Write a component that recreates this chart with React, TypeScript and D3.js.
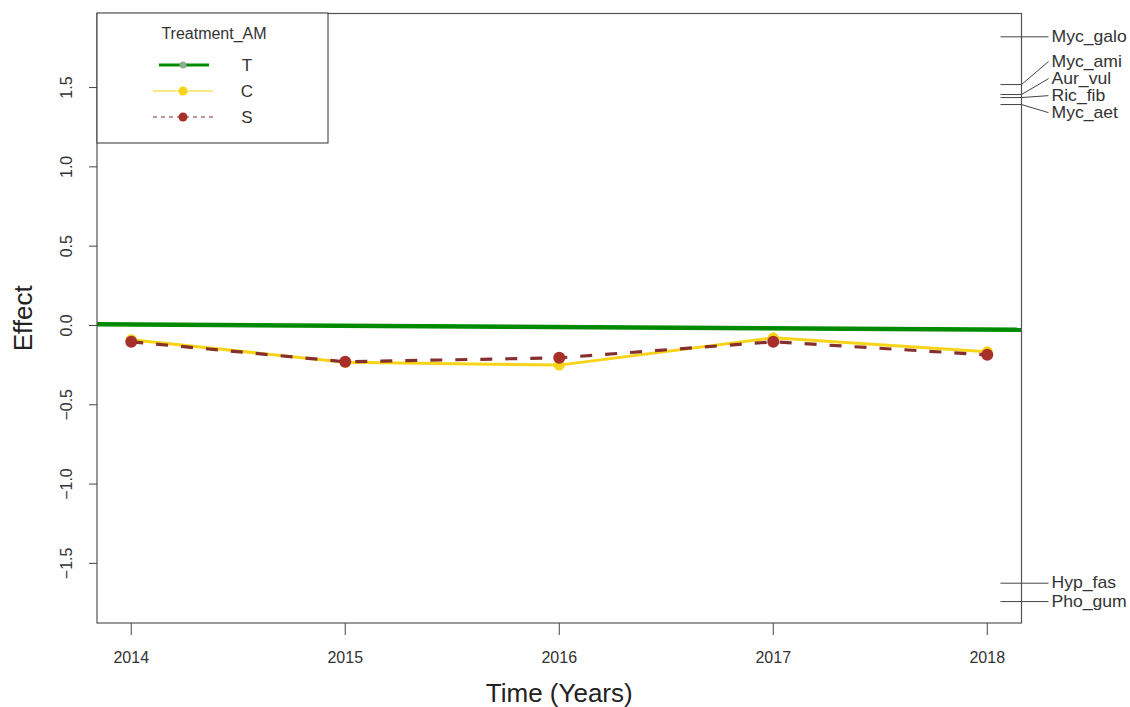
import React, { useEffect, useRef } from 'react'
import * as d3 from 'd3'

// years on the x axis
const years = [2014, 2015, 2016, 2017, 2018]

// treatment C and S effects per year
const effectC = [-0.09, -0.232, -0.25, -0.078, -0.166]
const effectS = [-0.103, -0.229, -0.204, -0.103, -0.185]

// treatment T is a straight reference line across the panel
const lineTYears = [2013.84, 2018.16]
const lineTValues = [0.008, -0.027]

const yTicks = [-1.5, -1.0, -0.5, 0.0, 0.5, 1.0, 1.5]

// species effects labelled on the right margin
const speciesNames = ['Myc_galo', 'Myc_ami', 'Aur_vul', 'Ric_fib', 'Myc_aet', 'Hyp_fas', 'Pho_gum']
const speciesValues = [1.82, 1.519, 1.456, 1.437, 1.393, -1.625, -1.741]
const speciesLabelAt = [1.82, 1.664, 1.556, 1.449, 1.342, -1.625, -1.741]

const legendKeys = ['T', 'C', 'S']

const FONT = '"Liberation Sans", Arial, Helvetica, sans-serif'

const App = () => {
    const ref = useRef(null)

    useEffect(() => {
        document.body.style.margin = '0'
        const svg = d3.select(ref.current)
        svg.selectAll('*').remove()

        const left = 97, right = 1021.5, top = 13.5, bottom = 623

        const xScale = d3.scaleLinear().domain([2013.84, 2018.16]).range([left, right])
        const yScale = d3.scaleLinear().domain([-1.876, 1.967]).range([bottom, top])

        svg.append('clipPath').attr('id', 'plotclip')
            .append('rect')
            .attr('x', left).attr('y', top)
            .attr('width', right - left).attr('height', bottom - top)

        const g = svg.append('g').attr('clip-path', 'url(#plotclip)')

        // T line
        const lineT = d3.line<number>()
            .x((d, i) => xScale(lineTYears[i]))
            .y(d => yScale(d))
        g.append('path')
            .attr('d', lineT(lineTValues))
            .attr('fill', 'none')
            .attr('stroke', '#008a00')
            .attr('stroke-width', 4.5)

        const line = d3.line<number>()
            .x((d, i) => xScale(years[i]))
            .y(d => yScale(d))

        // C line (gold)
        g.append('path')
            .attr('d', line(effectC))
            .attr('fill', 'none')
            .attr('stroke', '#f7d417')
            .attr('stroke-width', 3)
        g.selectAll('circle.c')
            .data(effectC)
            .join('circle')
            .attr('class', 'c')
            .attr('cx', (d, i) => xScale(years[i]))
            .attr('cy', d => yScale(d))
            .attr('r', 5.5)
            .attr('fill', '#f7d417')

        // S line (dashed brown)
        g.append('path')
            .attr('d', line(effectS))
            .attr('fill', 'none')
            .attr('stroke', '#85302c')
            .attr('stroke-width', 3.2)
            .attr('stroke-dasharray', '12,13')
        g.selectAll('circle.s')
            .data(effectS)
            .join('circle')
            .attr('class', 's')
            .attr('cx', (d, i) => xScale(years[i]))
            .attr('cy', d => yScale(d))
            .attr('r', 6)
            .attr('fill', '#a8302b')

        // box
        svg.append('rect')
            .attr('x', left).attr('y', top)
            .attr('width', right - left).attr('height', bottom - top)
            .attr('fill', 'none')
            .attr('stroke', '#555')
            .attr('stroke-width', 1.2)

        // y axis
        svg.selectAll('line.ytick')
            .data(yTicks)
            .join('line')
            .attr('class', 'ytick')
            .attr('x1', left - 8).attr('x2', left)
            .attr('y1', d => yScale(d)).attr('y2', d => yScale(d))
            .attr('stroke', '#444')
        svg.selectAll('text.ylab')
            .data(yTicks)
            .join('text')
            .attr('class', 'ylab')
            .attr('transform', d => `translate(72,${yScale(d)}) rotate(-90)`)
            .attr('text-anchor', 'middle')
            .attr('font-family', FONT)
            .attr('font-size', 16)
            .attr('fill', '#333')
            .text(d => d3.format('.1f')(d).replace('-', '\u2212'))

        // x axis
        svg.selectAll('line.xtick')
            .data(years)
            .join('line')
            .attr('class', 'xtick')
            .attr('x1', d => xScale(d)).attr('x2', d => xScale(d))
            .attr('y1', bottom).attr('y2', bottom + 12)
            .attr('stroke', '#444')
        svg.selectAll('text.xlab')
            .data(years)
            .join('text')
            .attr('class', 'xlab')
            .attr('x', d => xScale(d))
            .attr('y', 663)
            .attr('text-anchor', 'middle')
            .attr('font-family', FONT)
            .attr('font-size', 16)
            .attr('fill', '#333')
            .text(d => d)

        svg.append('text')
            .attr('x', (left + right) / 2)
            .attr('y', 702)
            .attr('text-anchor', 'middle')
            .attr('font-family', FONT)
            .attr('font-size', 26)
            .attr('fill', '#222')
            .text('Time (Years)')

        svg.append('text')
            .attr('transform', `translate(32,${(top + bottom) / 2}) rotate(-90)`)
            .attr('text-anchor', 'middle')
            .attr('font-family', FONT)
            .attr('font-size', 26)
            .attr('fill', '#222')
            .text('Effect')

        // right-margin species labels
        const lab = svg.append('g')
        speciesNames.forEach((name, i) => {
            const yv = yScale(speciesValues[i])
            const yl = yScale(speciesLabelAt[i])
            lab.append('polyline')
                .attr('points', `${right - 21},${yv} ${right},${yv} ${right + 27},${yl}`)
                .attr('fill', 'none')
                .attr('stroke', '#444')
                .attr('stroke-width', 1)
            lab.append('text')
                .attr('transform', `translate(${right + 30},${yl}) scale(1.1,1)`)
                .attr('dominant-baseline', 'central')
                .attr('font-family', FONT)
                .attr('font-size', 16)
                .attr('fill', '#333')
                .text(name)
        })

        // legend
        const lg = svg.append('g')
        lg.append('rect')
            .attr('x', left).attr('y', 13)
            .attr('width', 231).attr('height', 130)
            .attr('fill', '#fff')
            .attr('stroke', '#333')
            .attr('stroke-width', 1)
        lg.append('text')
            .attr('x', 214).attr('y', 39)
            .attr('text-anchor', 'middle')
            .attr('font-family', FONT)
            .attr('font-size', 16)
            .attr('fill', '#333')
            .text('Treatment_AM')

        const ly = d3.scalePoint().domain(legendKeys).range([65, 117])
        const tY = ly('T')!, cY = ly('C')!, sY = ly('S')!
        lg.append('line').attr('x1', 159).attr('x2', 209).attr('y1', tY).attr('y2', tY)
            .attr('stroke', '#008a00').attr('stroke-width', 3)
        lg.append('circle').attr('cx', 183).attr('cy', tY).attr('r', 3.5).attr('fill', '#8fae8f')
        lg.append('line').attr('x1', 153).attr('x2', 213).attr('y1', cY).attr('y2', cY)
            .attr('stroke', '#f7d417').attr('stroke-width', 1.2)
        lg.append('circle').attr('cx', 183).attr('cy', cY).attr('r', 4.5).attr('fill', '#f7d417')
        lg.append('line').attr('x1', 153).attr('x2', 213).attr('y1', sY).attr('y2', sY)
            .attr('stroke', '#85302c').attr('stroke-width', 1.2).attr('stroke-dasharray', '4,4')
        lg.append('circle').attr('cx', 183).attr('cy', sY).attr('r', 4.5).attr('fill', '#a8302b')

        lg.selectAll('text.key')
            .data(legendKeys)
            .join('text')
            .attr('class', 'key')
            .attr('x', 247)
            .attr('y', d => ly(d)! + 6)
            .attr('text-anchor', 'middle')
            .attr('font-family', FONT)
            .attr('font-size', 17)
            .attr('fill', '#333')
            .text(d => d)
    }, [])

    return (
        <svg ref={ref} width={1130} height={707} style={{ display: 'block', background: '#fff' }} />
    )
}

export default App
